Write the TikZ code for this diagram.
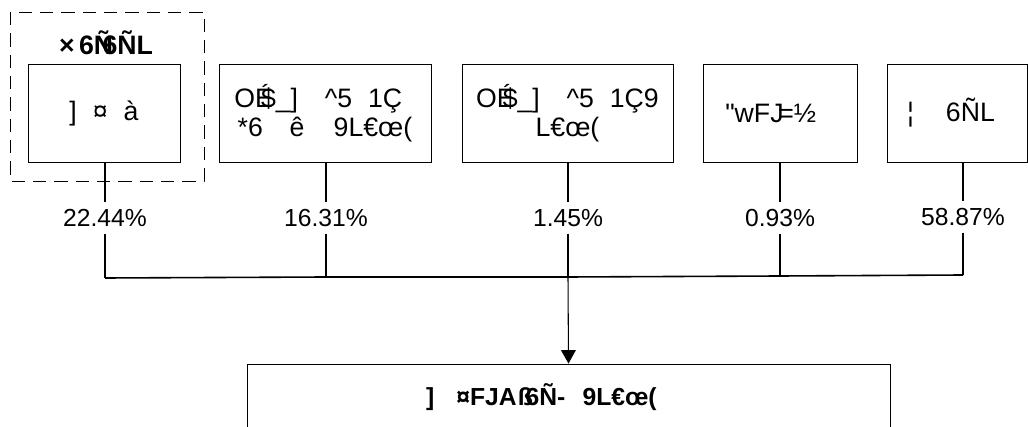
\documentclass[tikz,border=0pt]{standalone}
\usepackage{fontspec}
\setmainfont{Liberation Sans}[Ligatures=TeXOff]
\usetikzlibrary{arrows.meta,positioning}

\begin{document}
\begin{tikzpicture}[x=0.75pt,y=-0.75pt,
    box/.style={draw,line width=0.7pt,minimum height=73.5pt,inner sep=0pt,align=center,font=\fontsize{20}{22}\selectfont},
    pct/.style={inner xsep=0pt,inner ysep=5pt,font=\fontsize{18.5}{20}\selectfont},
    link/.style={line width=0.8pt}]
    \useasboundingbox (0,0) rectangle (1028,427);

    % Grouped first item
    \draw[line width=0.7pt,dash pattern=on 10pt off 6pt] (10,12) rectangle (204,181);
    \node[font=\fontsize{20}{20}\selectfont\bfseries] (grp) at (106,43) {×\,6Ñ\kern-0.4em6ÑL};

    % Source boxes
    \node[box,minimum width=114pt] (b1) at (104,113) {]\hspace{0.6em}¤\hspace{0.6em}à};
    \node[box,minimum width=159pt] (b2) at (325,113) {OÉ\kern-0.45em\$\_]\hspace{1em}\^{}5\hspace{0.6em}1Ç\hspace*{0.5em}\\*6\hspace{1em}ê\hspace{1.1em}9L€œ(};
    \node[box,minimum width=158.25pt] (b3) at (567.5,113) {OÉ\kern-0.45em\$\_]\hspace{1em}\^{}5\hspace{0.6em}1Ç9\\L€œ(};
    \node[box,minimum width=115.5pt] (b4) at (780,113) {"wFJ\kern-0.2em=½\hspace*{0.7em}};
    \node[box,minimum width=105pt] (b5) at (957,113) {¦\hspace{1.2em}6ÑL\hspace*{0.45em}};

    % Shares
    \node[pct] (p1) at (105,218) {22.44\%};
    \node[pct] (p2) at (326,218) {16.31\%};
    \node[pct] (p3) at (568,218) {1.45\%};
    \node[pct] (p4) at (780,218) {0.93\%};
    \node[pct] (p5) at (963,217) {58.87\%};

    % Collector line
    \coordinate (j1) at (105,278);
    \coordinate (j2) at (326,277);
    \coordinate (j3) at (568,277);
    \coordinate (j4) at (780,276);
    \coordinate (j5) at (963,275);

    % Result box
    \node[box,minimum width=482.25pt,minimum height=49.5pt,font=\fontsize{18.5}{22}\selectfont\bfseries] (out) at (568.5,397) {]\hspace{0.9em}¤FJA\kern0.05emß\kern-0.3em6Ñ-\hspace{0.7em}9L€œ(\hspace*{2.2em}};

    \foreach \i in {1,...,5} {
        \draw[link] (b\i.south -| p\i) -- (p\i.north);
        \draw[link] (p\i.south) -- (j\i);
    }
    \draw[link,line width=1.2pt] (j1) -- (j2) -- (j3) -- (j4) -- (j5);
    \draw[link,-{Triangle[width=11pt,length=10pt]}] (j3) -- (out.north);
\end{tikzpicture}
\end{document}
